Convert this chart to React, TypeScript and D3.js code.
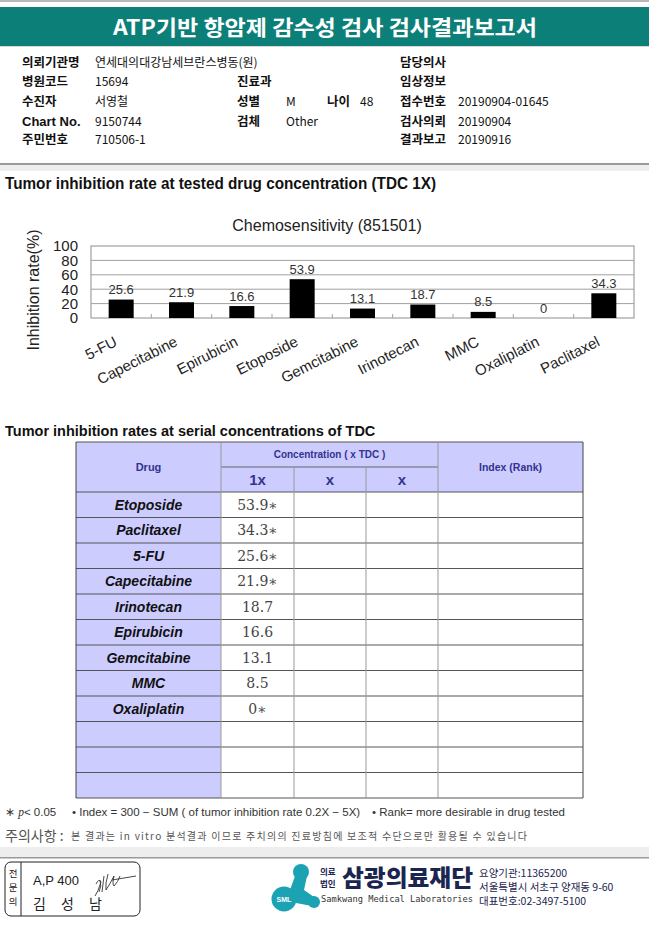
import React from "react";
import * as d3 from "d3";

// ---------- data ----------
const drugs = ["5-FU", "Capecitabine", "Epirubicin", "Etoposide", "Gemcitabine", "Irinotecan", "MMC", "Oxaliplatin", "Paclitaxel"];
const inhibition = [25.6, 21.9, 16.6, 53.9, 13.1, 18.7, 8.5, 0, 34.3];
const yTicks = [0, 20, 40, 60, 80, 100];

const tableDrugs = ["Etoposide", "Paclitaxel", "5-FU", "Capecitabine", "Irinotecan", "Epirubicin", "Gemcitabine", "MMC", "Oxaliplatin"];
const tableValues = ["53.9", "34.3", "25.6", "21.9", "18.7", "16.6", "13.1", "8.5", "0"];
const tableSignificant = [true, true, true, true, false, false, false, false, true];
const concHeaders = ["1x", "x", "x"];
const emptyRowCount = 3;

const infoLeft = [
  ["의뢰기관명", "연세대의대강남세브란스병동(원)"],
  ["병원코드", "15694"],
  ["수진자", "서영철"],
  ["Chart No.", "9150744"],
  ["주민번호", "710506-1"],
];
const infoMid = [
  ["", ""],
  ["진료과", ""],
  ["성별", "M"],
  ["검체", "Other"],
  ["", ""],
];
const infoRight = [
  ["담당의사", ""],
  ["임상정보", ""],
  ["접수번호", "20190904-01645"],
  ["검사의뢰", "20190904"],
  ["결과보고", "20190916"],
];

const KR = "'Noto Sans CJK KR', 'Liberation Sans', sans-serif";
const SANS = "'Liberation Sans', Arial, sans-serif";
const NARROW = "'Liberation Sans Narrow', 'Liberation Sans', Arial, sans-serif";
const TEAL = "#0d7f79";
const NAVY = "#33338f";
const LAV = "#ccccff";

export default function App() {
  // chart scales
  const plot = { left: 91, right: 634, top: 246, bottom: 318 };
  const x = d3.scaleBand<string>().domain(drugs).range([plot.left, plot.right]).paddingInner(0).paddingOuter(0);
  const y = d3.scaleLinear().domain([0, 100]).range([plot.bottom, plot.top]);
  const barW = 25;

  // table scales
  const colEdges = [76, 221, 294, 366, 438, 583];
  const totalRows = tableDrugs.length + emptyRowCount;
  const rowY = d3.scaleBand<number>().domain(d3.range(totalRows)).range([492, 798]);
  const headerTop = 442;
  const headerMid = 467;
  const headerBot = 492;

  const infoRowsY = [67, 86, 106, 126, 144];

  return (
    <svg width={649} height={927} style={{ position: "absolute", left: 0, top: 0, background: "#fff" }} xmlns="http://www.w3.org/2000/svg">
      <rect x={0} y={0} width={649} height={927} fill="#fff" />
      {/* top bar */}
      <rect x={0} y={0} width={649} height={2} fill="#b8b8b8" />
      <rect x={0} y={7} width={649} height={39} fill={TEAL} />
      <rect x={0} y={46} width={649} height={1} fill="#d8d8d8" />
      <text x={325} y={35} textAnchor="middle" fill="#fff" fontFamily={KR} fontWeight={700} fontSize={21} textLength={424} lengthAdjust="spacingAndGlyphs">
        ATP기반 항암제 감수성 검사 검사결과보고서
      </text>

      {/* info */}
      <g fontFamily={KR} fontSize={12.5} fill="#111">
        {infoLeft.map(([l, v], i) => (
          <g key={"l" + i}>
            <text x={22} y={infoRowsY[i]} fontWeight={700} fontSize={l === "Chart No." ? 13 : 12.5} fontFamily={l === "Chart No." ? SANS : KR}>{l}</text>
            <text x={95} y={infoRowsY[i]} fontSize={12}>{v}</text>
          </g>
        ))}
        {infoMid.map(([l, v], i) =>
          l ? (
            <g key={"m" + i}>
              <text x={237} y={infoRowsY[i]} fontWeight={700}>{l}</text>
              <text x={286} y={infoRowsY[i]} fontSize={12}>{v}</text>
            </g>
          ) : null
        )}
        <text x={327} y={infoRowsY[2]} fontWeight={700}>나이</text>
        <text x={360} y={infoRowsY[2]} fontSize={12}>48</text>
        {infoRight.map(([l, v], i) => (
          <g key={"r" + i}>
            <text x={400} y={infoRowsY[i]} fontWeight={700}>{l}</text>
            <text x={458} y={infoRowsY[i]} fontSize={12}>{v}</text>
          </g>
        ))}
      </g>

      {/* separator */}
      <rect x={0} y={163} width={649} height={2} fill="#9a9a9a" />
      <rect x={0} y={165} width={649} height={6} fill="#eeeeee" />

      <text x={5} y={189} fontFamily={NARROW} fontWeight={700} fontSize={16} fill="#111" textLength={431} lengthAdjust="spacingAndGlyphs">
        Tumor inhibition rate at tested drug concentration (TDC 1X)
      </text>

      {/* chart */}
      <text x={327} y={231} textAnchor="middle" fontFamily={SANS} fontSize={16} fill="#222">Chemosensitivity (851501)</text>
      <g>
        {yTicks.filter((t) => t > 0 && t < 100).map((t) => (
          <line key={t} x1={plot.left} x2={plot.right} y1={y(t)} y2={y(t)} stroke="#a0a0a0" strokeWidth={1} />
        ))}
        <rect x={plot.left} y={plot.top} width={plot.right - plot.left} height={plot.bottom - plot.top} fill="none" stroke="#a0a0a0" strokeWidth={1.2} />
        {drugs.slice(1).map((d) => (
          <line key={d} x1={x(d)!} x2={x(d)!} y1={plot.bottom} y2={plot.bottom - 4} stroke="#a0a0a0" />
        ))}
        {drugs.map((d, i) => {
          const cx = x(d)! + x.bandwidth() / 2;
          return (
            <g key={d}>
              <rect x={cx - barW / 2} y={y(inhibition[i])} width={barW} height={y(0) - y(inhibition[i])} fill="#000" />
              <text x={cx} y={y(inhibition[i]) - 5.5} textAnchor="middle" fontFamily={SANS} fontSize={13} fill="#333">
                {inhibition[i] === 0 ? "0" : inhibition[i].toFixed(1)}
              </text>
              <text
                transform={`translate(${cx - 3},${plot.bottom + 27}) rotate(-27)`}
                textAnchor="end"
                fontFamily={SANS}
                fontSize={15}
                fill="#222"
              >
                {d}
              </text>
            </g>
          );
        })}
        {yTicks.map((t) => (
          <text key={t} x={78} y={y(t)} dy="0.36em" textAnchor="end" fontFamily={SANS} fontSize={15} fill="#222">{t}</text>
        ))}
        <text transform={`translate(39,${(plot.top + plot.bottom) / 2 + 8}) rotate(-90)`} textAnchor="middle" fontFamily={SANS} fontSize={16} fill="#222">
          Inhibition rate(%)
        </text>
      </g>

      {/* table title */}
      <text x={5} y={436} fontFamily={SANS} fontWeight={700} fontSize={14.5} fill="#111">
        Tumor inhibition rates at serial concentrations of TDC
      </text>

      {/* table */}
      <g>
        <rect x={colEdges[0]} y={headerTop} width={colEdges[5] - colEdges[0]} height={headerBot - headerTop} fill={LAV} />
        {d3.range(totalRows).map((r) => (
          <rect key={"bg" + r} x={colEdges[0]} y={rowY(r)!} width={colEdges[1] - colEdges[0]} height={rowY.bandwidth()} fill={LAV} />
        ))}
        <line x1={colEdges[1]} x2={colEdges[4]} y1={headerMid} y2={headerMid} stroke="#666" />
        {d3.range(totalRows + 1).map((r) => {
          const yy = r === totalRows ? 798 : rowY(r)!;
          return <line key={"h" + r} x1={colEdges[0]} x2={colEdges[5]} y1={yy} y2={yy} stroke="#555" strokeWidth={1} />;
        })}
        <line x1={colEdges[0]} x2={colEdges[5]} y1={headerTop} y2={headerTop} stroke="#555" />
        {colEdges.map((cx, i) => (
          <line
            key={"v" + i}
            x1={cx}
            x2={cx}
            y1={i === 2 || i === 3 ? headerMid : headerTop}
            y2={798}
            stroke={i === 0 || i === 5 ? "#444" : "#999"}
            strokeWidth={1}
          />
        ))}
        <text x={(colEdges[0] + colEdges[1]) / 2} y={471} textAnchor="middle" fontFamily={SANS} fontWeight={700} fontSize={11} fill={NAVY}>Drug</text>
        <text x={(colEdges[1] + colEdges[4]) / 2} y={458} textAnchor="middle" fontFamily={SANS} fontWeight={700} fontSize={10} fill={NAVY}>Concentration ( x TDC )</text>
        {concHeaders.map((h, i) => (
          <text key={"ch" + i} x={(colEdges[i + 1] + colEdges[i + 2]) / 2} y={485} textAnchor="middle" fontFamily={SANS} fontWeight={700} fontSize={15} fill={NAVY}>{h}</text>
        ))}
        <text x={(colEdges[4] + colEdges[5]) / 2} y={471} textAnchor="middle" fontFamily={SANS} fontWeight={700} fontSize={10.5} fill={NAVY}>Index (Rank)</text>
        {tableDrugs.map((d, i) => (
          <g key={"row" + d}>
            <text x={(colEdges[0] + colEdges[1]) / 2} y={rowY(i)! + rowY.bandwidth() / 2} dy="0.36em" textAnchor="middle" fontFamily={SANS} fontWeight={700} fontStyle="italic" fontSize={14} fill="#111">{d}</text>
            <text x={(colEdges[1] + colEdges[2]) / 2} y={rowY(i)! + rowY.bandwidth() / 2} dy="0.36em" textAnchor="middle" fontFamily="'DejaVu Serif', 'Liberation Serif', serif" fontSize={14} fill="#444">
              {tableValues[i]}{tableSignificant[i] ? "∗" : ""}
            </text>
          </g>
        ))}
      </g>

      {/* footnotes */}
      <g fontFamily={NARROW} fontSize={11.5} fill="#333">
        <text x={5} y={816}>∗ <tspan fontStyle="italic" fontFamily="'Liberation Serif', serif">p</tspan>&lt; 0.05</text>
        <text x={72} y={816}>• Index = 300 − SUM ( of tumor inhibition rate 0.2X  −  5X)</text>
        <text x={372} y={816}>• Rank= more desirable in drug tested</text>
      </g>
      <text x={5} y={841} fontFamily={KR} fontSize={14} fill="#555">주의사항 :</text>
      <text x={71} y={840} fontFamily={KR} fontSize={10} fill="#555" textLength={456} lengthAdjust="spacing">본 결과는 in vitro 분석결과 이므로 주치의의 진료방침에 보조적 수단으로만 활용될 수 있습니다</text>

      <rect x={0} y={847} width={649} height={10} fill="#eeeeee" />
      <rect x={0} y={857} width={649} height={1.5} fill="#9a9a9a" />

      {/* signature box */}
      <rect x={5} y={862} width={135} height={54} rx={6} ry={6} fill="none" stroke="#222" strokeWidth={1} />
      <line x1={21} x2={21} y1={862} y2={916} stroke="#222" />
      <g fontFamily={KR} fontSize={9.5} fill="#222" textAnchor="middle">
        {["전", "문", "의"].map((c, i) => (
          <text key={c} x={13} y={877 + i * 14}>{c}</text>
        ))}
      </g>
      <text x={33} y={885} fontFamily={SANS} fontSize={13} fill="#222">A,P 400</text>
      <text x={33} y={909} fontFamily={KR} fontSize={14} fill="#222" letterSpacing={6}>김 성 남</text>
      <g fill="none" stroke="#333" strokeWidth={0.9}>
        <path d="M96 884 q3 -6 5 -2 q-3 10 -6 14 M100 880 q2 6 -1 12 M104 876 l-2 16 M108 874 q-3 10 -2 16 q4 -6 8 -14 q-2 8 0 10 q4 -4 6 -10 M112 880 l24 -4" />
      </g>

      {/* logo */}
      <g fill="#1ca3b3">
        <circle cx={301} cy={872} r={8} />
        <circle cx={284} cy={899} r={12.5} />
        <circle cx={314} cy={902} r={6} />
        <path d="M295 876 L307 876 L304 890 L314 897 L312 906 L296 903 L290 890 Z" />
      </g>
      <text x={284} y={902} textAnchor="middle" fontFamily={SANS} fontWeight={700} fontSize={7} fill="#fff">SML</text>
      <g fontFamily={KR} fontWeight={700} fontSize={8.5} fill="#1b2550">
        <text x={320} y={875}>의료</text>
        <text x={320} y={887}>법인</text>
      </g>
      <text x={342} y={886} fontFamily={KR} fontWeight={900} fontSize={23} fill="#1b2550" textLength={131} lengthAdjust="spacingAndGlyphs">삼광의료재단</text>
      <text x={321} y={902} fontFamily="'DejaVu Sans Mono', monospace" fontSize={8.5} fill="#333" textLength={152} lengthAdjust="spacingAndGlyphs">Samkwang Medical Laboratories</text>
      <g fontFamily={KR} fontSize={10.5} fill="#1b2550">
        <text x={479} y={877}>요양기관:11365200</text>
        <text x={479} y={891}>서울특별시 서초구 양재동 9-60</text>
        <text x={479} y={905}>대표번호:02-3497-5100</text>
      </g>
    </svg>
  );
}
